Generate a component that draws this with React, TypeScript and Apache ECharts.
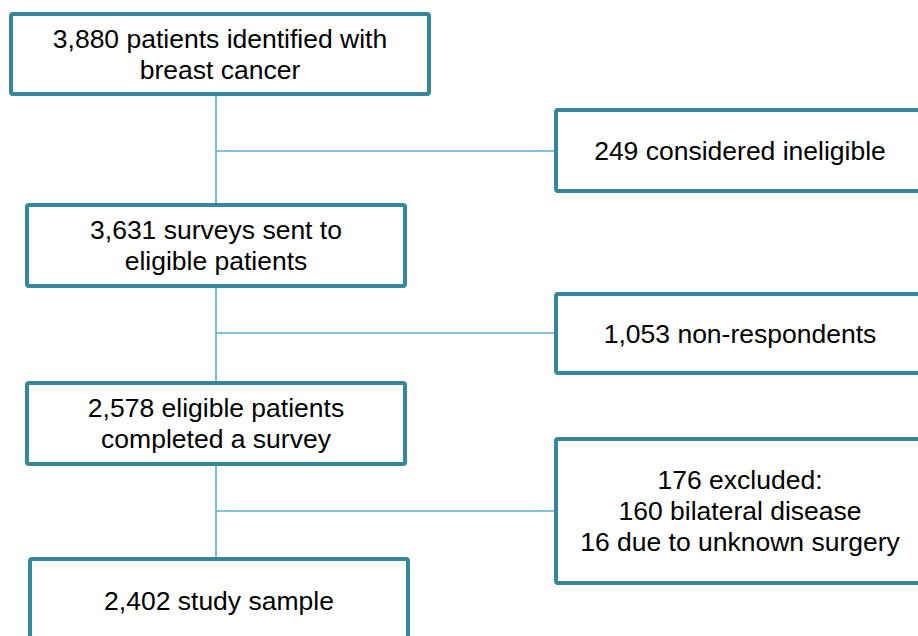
import React, { useEffect, useRef } from "react";
import * as echarts from "echarts";

// Flowchart content
const mainSteps: string[] = [
  "3,880 patients identified with\nbreast cancer",
  "3,631 surveys sent to\neligible patients",
  "2,578 eligible patients\ncompleted a survey",
  "2,402 study sample",
];
const exclusions: string[] = [
  "249 considered ineligible",
  "1,053 non-respondents",
  "176 excluded:\n160 bilateral disease\n16 due to unknown surgery",
];

// Layout (positions in pixels)
const mainBoxes = [
  { x: 11, y: 14, w: 418, h: 80 },
  { x: 27, y: 205, w: 378, h: 81 },
  { x: 27, y: 383, w: 378, h: 81 },
  { x: 30, y: 559, w: 378, h: 84 },
];
const sideBoxes = [
  { x: 556, y: 110, w: 368, h: 81 },
  { x: 556, y: 294, w: 368, h: 79 },
  { x: 556, y: 439, w: 368, h: 144 },
];
const spineX = 216;
const branchY = [151, 333, 511];

const BORDER = "#34879c";
const CONNECTOR = "#56b1cb";
const FONT = "Liberation Sans, Arial, sans-serif";

export default function App() {
  const ref = useRef<HTMLDivElement>(null);
  useEffect(() => {
    if (!ref.current) return;
    const chart = echarts.init(ref.current, undefined, { renderer: "svg" });
    const elements: any[] = [];
    // connectors
    elements.push({
      type: "line",
      z: 1,
      shape: { x1: spineX, y1: mainBoxes[0].y + mainBoxes[0].h, x2: spineX, y2: mainBoxes[3].y },
      style: { stroke: CONNECTOR, lineWidth: 1.6 },
    });
    branchY.forEach((y, i) => {
      elements.push({
        type: "line",
        z: 1,
        shape: { x1: spineX, y1: y, x2: sideBoxes[i].x, y2: y },
        style: { stroke: CONNECTOR, lineWidth: 1.6 },
      });
    });
    const addBox = (b: { x: number; y: number; w: number; h: number }, label: string) => {
      elements.push({
        type: "rect",
        z: 2,
        shape: { x: b.x, y: b.y, width: b.w, height: b.h, r: 2 },
        style: { fill: "#ffffff", stroke: BORDER, lineWidth: 4 },
      });
      elements.push({
        type: "text",
        z: 3,
        x: b.x + b.w / 2,
        y: b.y + b.h / 2,
        style: {
          text: label,
          fill: "#000000",
          fontSize: 26.5,
          fontFamily: FONT,
          lineHeight: 31,
          align: "center",
          verticalAlign: "middle",
        },
      });
    };
    mainSteps.forEach((t, i) => addBox(mainBoxes[i], t));
    exclusions.forEach((t, i) => addBox(sideBoxes[i], t));

    chart.setOption({
      animation: false,
      backgroundColor: "#ffffff",
      graphic: { elements },
    });
    return () => chart.dispose();
  }, []);
  return (
    <div
      ref={ref}
      style={{ position: "fixed", left: 0, top: 0, width: 918, height: 636 }}
    />
  );
}
